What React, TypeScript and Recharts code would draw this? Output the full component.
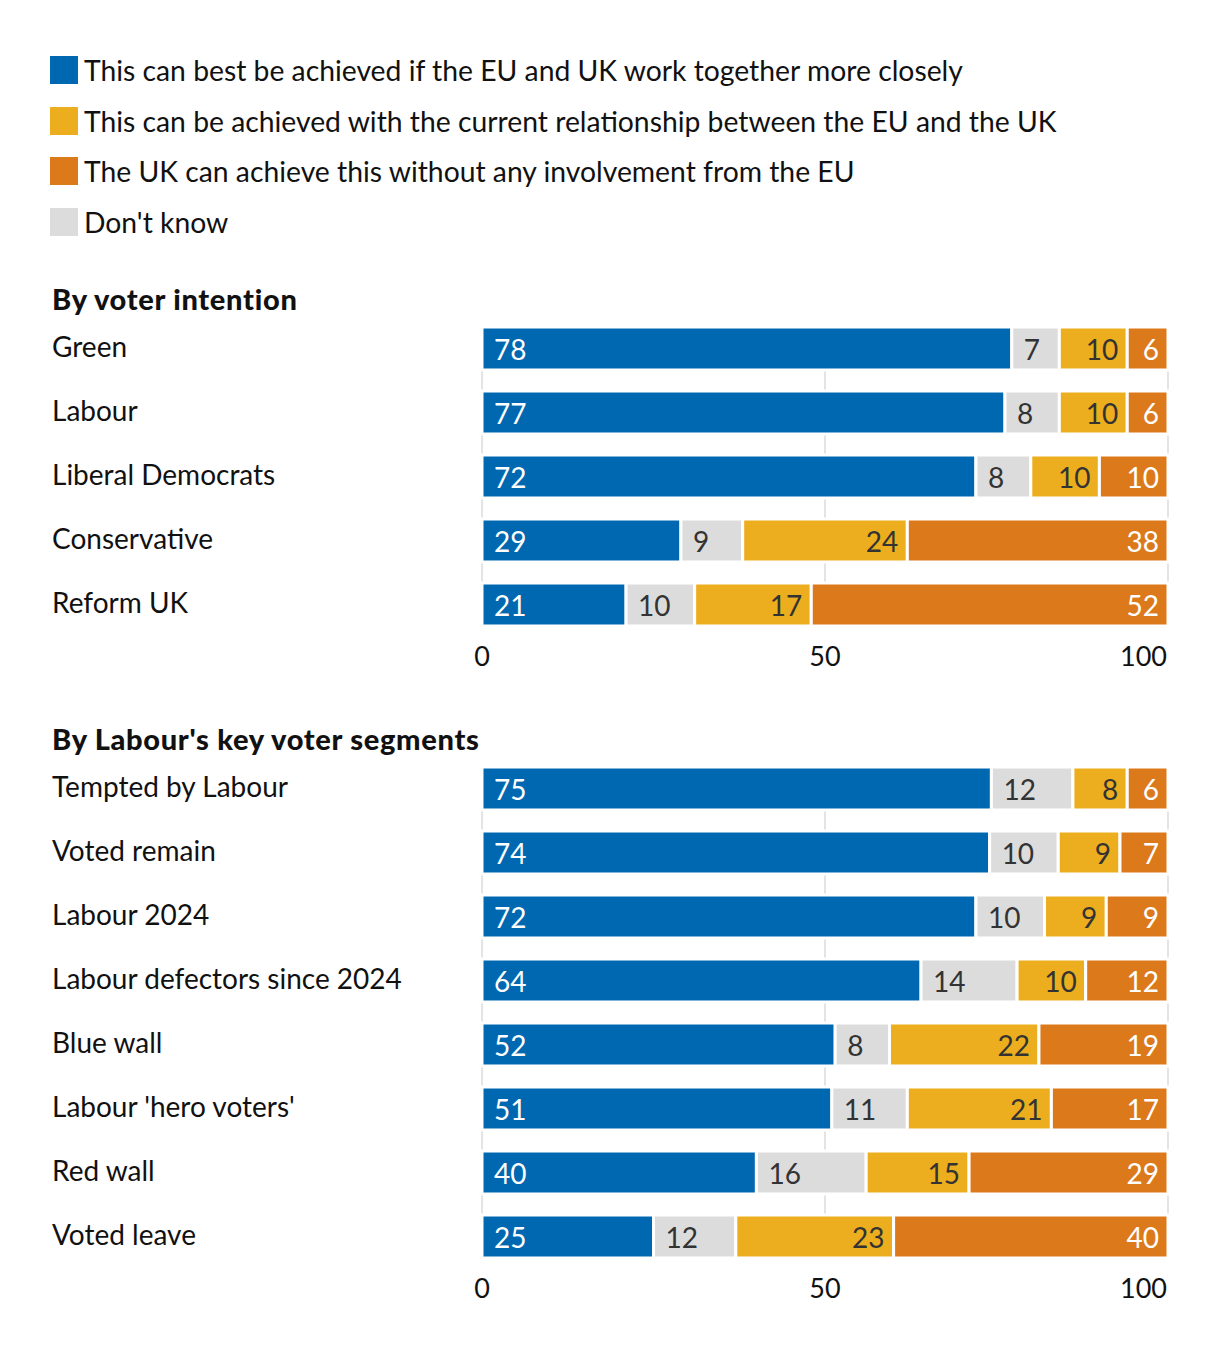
import React from 'react';
import { BarChart, Bar, XAxis, YAxis, CartesianGrid, LabelList } from 'recharts';

const FONT = 'Lato, "Noto Sans", sans-serif';

const legendLabels = [
  'This can best be achieved if the EU and UK work together more closely',
  'This can be achieved with the current relationship between the EU and the UK',
  'The UK can achieve this without any involvement from the EU',
  "Don't know",
];
const legendColors = ['#0068b0', '#ecae1e', '#dc791b', '#dcdcdc'];

const voterCats = ['Green', 'Labour', 'Liberal Democrats', 'Conservative', 'Reform UK'];
const voterCloser = [78, 77, 72, 29, 21];
const voterDontKnow = [7, 8, 8, 9, 10];
const voterCurrent = [10, 10, 10, 24, 17];
const voterWithout = [6, 6, 10, 38, 52];

const segmentCats = [
  'Tempted by Labour',
  'Voted remain',
  'Labour 2024',
  'Labour defectors since 2024',
  'Blue wall',
  "Labour 'hero voters'",
  'Red wall',
  'Voted leave',
];
const segmentCloser = [75, 74, 72, 64, 52, 51, 40, 25];
const segmentDontKnow = [12, 10, 10, 14, 8, 11, 16, 12];
const segmentCurrent = [8, 9, 9, 10, 22, 21, 15, 23];
const segmentWithout = [6, 7, 9, 12, 19, 17, 29, 40];

const xTicks = [0, 50, 100];

function buildRows(cats: string[], closer: number[], dk: number[], current: number[], without: number[]) {
  return cats.map((name, i) => {
    const total = closer[i] + dk[i] + current[i] + without[i];
    return {
      name,
      closer: (closer[i] / total) * 100,
      dk: (dk[i] / total) * 100,
      current: (current[i] / total) * 100,
      without: (without[i] / total) * 100,
      closerRaw: closer[i],
      dkRaw: dk[i],
      currentRaw: current[i],
      withoutRaw: without[i],
    };
  });
}

const makeLabel = (align: 'start' | 'end', color: string) => (props: any) => {
  const { x, y, width, height, value } = props;
  const tx = align === 'start' ? x + 12 : x + width - 9;
  return (
    <text
      x={tx}
      y={y + height / 2}
      textAnchor={align}
      dominantBaseline="central"
      fill={color}
      fontSize={28}
      fontFamily={FONT}
    >
      {value}
    </text>
  );
};

const CategoryTick = (props: any) => {
  const { y, payload } = props;
  return (
    <text x={52} y={y - 2} dominantBaseline="central" fill="#111" fontSize={28} fontFamily={FONT}>
      {payload.value}
    </text>
  );
};

const ValueTick = (props: any) => {
  const { x, y, payload } = props;
  const anchor = payload.value === 100 ? 'end' : 'middle';
  return (
    <text
      x={payload.value === 100 ? x - 1 : x}
      y={y + 11}
      textAnchor={anchor}
      dominantBaseline="central"
      fill="#111"
      fontSize={27}
      fontFamily={FONT}
    >
      {payload.value}
    </text>
  );
};

const StackChart: React.FC<{ data: any[] }> = ({ data }) => (
  <BarChart
    width={1220}
    height={data.length * 64 + 40}
    data={data}
    layout="vertical"
    margin={{ top: 0, right: 52, left: 0, bottom: 0 }}
    barSize={43}
  >
    <CartesianGrid horizontal={false} stroke="#e4e4e4" strokeWidth={2} y={12} height={data.length * 64 - 24} />
    <XAxis type="number" domain={[0, 100]} ticks={xTicks} axisLine={false} tickLine={false} height={40} tick={<ValueTick />} />
    <YAxis type="category" dataKey="name" width={482} axisLine={false} tickLine={false} tick={<CategoryTick />} />
    <Bar dataKey="closer" stackId="a" fill="#0068b0" stroke="#fff" strokeWidth={3} isAnimationActive={false}>
      <LabelList dataKey="closerRaw" content={makeLabel('start', '#fff')} />
    </Bar>
    <Bar dataKey="dk" stackId="a" fill="#dcdcdc" stroke="#fff" strokeWidth={3} isAnimationActive={false}>
      <LabelList dataKey="dkRaw" content={makeLabel('start', '#333')} />
    </Bar>
    <Bar dataKey="current" stackId="a" fill="#ecae1e" stroke="#fff" strokeWidth={3} isAnimationActive={false}>
      <LabelList dataKey="currentRaw" content={makeLabel('end', '#333')} />
    </Bar>
    <Bar dataKey="without" stackId="a" fill="#dc791b" stroke="#fff" strokeWidth={3} isAnimationActive={false}>
      <LabelList dataKey="withoutRaw" content={makeLabel('end', '#fff')} />
    </Bar>
  </BarChart>
);

const voterRows = buildRows(voterCats, voterCloser, voterDontKnow, voterCurrent, voterWithout);
const segmentRows = buildRows(segmentCats, segmentCloser, segmentDontKnow, segmentCurrent, segmentWithout);

const titleStyle: React.CSSProperties = { position: 'absolute', left: 52, fontSize: 29, fontWeight: 900, letterSpacing: 0.7 };

export default function App() {
  return (
    <div style={{ position: 'relative', width: 1220, height: 1350, background: '#fff', fontFamily: FONT, color: '#111' }}>
      <style>{'body{margin:0}'}</style>
      {legendLabels.map((label, i) => (
        <div
          key={label}
          style={{ position: 'absolute', left: 50, top: 55 + i * 50.5, height: 30, display: 'flex', alignItems: 'center', fontSize: 28.3 }}
        >
          <span style={{ display: 'inline-block', width: 28, height: 28, background: legendColors[i], marginRight: 6 }} />
          <span>{label}</span>
        </div>
      ))}
      <div style={{ ...titleStyle, top: 281 }}>By voter intention</div>
      <div style={{ position: 'absolute', left: 0, top: 316 }}>
        <StackChart data={voterRows} />
      </div>
      <div style={{ ...titleStyle, top: 721 }}>By Labour's key voter segments</div>
      <div style={{ position: 'absolute', left: 0, top: 756 }}>
        <StackChart data={segmentRows} />
      </div>
    </div>
  );
}
